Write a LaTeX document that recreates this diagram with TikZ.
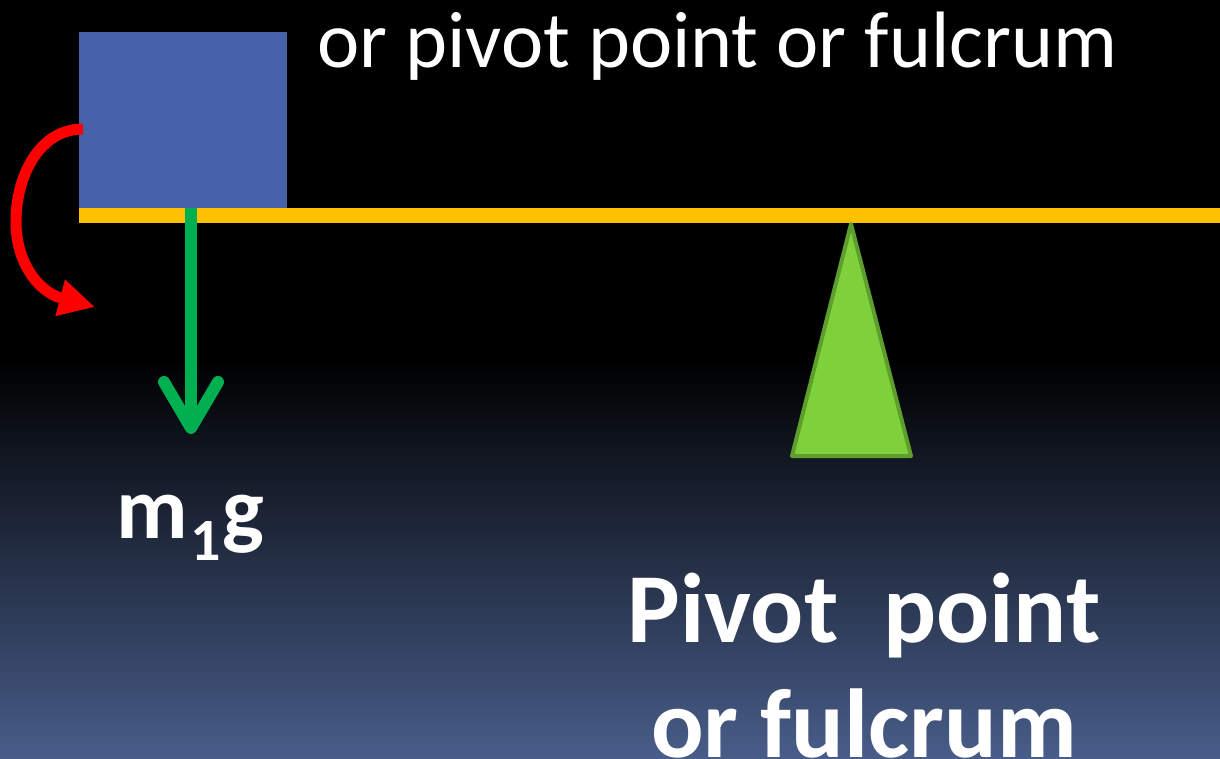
\documentclass[tikz,border=0pt]{standalone}
\usepackage{fontspec}
\setmainfont{Carlito}
\usetikzlibrary{arrows.meta}

\definecolor{bgbottom}{HTML}{485D89}
\definecolor{blockblue}{HTML}{4662A9}
\definecolor{beamyellow}{HTML}{FFC000}
\definecolor{forcegreen}{HTML}{00B050}
\definecolor{pivotfill}{HTML}{7FD13B}
\definecolor{pivotedge}{HTML}{5E9E2D}
\definecolor{turnred}{HTML}{FF0000}

\tikzset{
  massblock/.style={fill=blockblue, draw=none, inner sep=0pt,
    minimum width=208pt, minimum height=176pt},
  beambar/.style={fill=beamyellow, draw=none, inner sep=0pt,
    minimum width=1141pt, minimum height=15pt},
  weightarrow/.style={draw=forcegreen, line width=12pt,
    -{Straight Barb[length=46pt,width=54pt,round]}},
  turnarrow/.style={draw=turnred, line width=11pt,
    -{Triangle[length=36pt,width=35pt]}},
  fulcrum/.style={fill=pivotfill, draw=pivotedge, line width=4pt, line join=round},
  label/.style={text=white, inner sep=0pt, anchor=base},
}

\begin{document}
\begin{tikzpicture}[x=1pt,y=-1pt]
  % background: black above, fading to slate blue at the bottom
  \useasboundingbox (0,0) rectangle (1220,759);
  \fill[black] (0,0) rectangle (1220,759);
  \shade[top color=black, bottom color=bgbottom] (0,360) rectangle (1220,759);

  % lever and mass
  \node[massblock] (block) at (183,120) {};
  \node[beambar] (beam) at (649.5,215.5) {};

  % fulcrum wedge
  \coordinate (apex) at (851,224);
  \coordinate (baseR) at (911,456);
  \coordinate (baseL) at (792,456);
  \draw[fulcrum] (apex) -- (baseR) -- (baseL) -- cycle;

  % weight of the mass
  \coordinate (gtip) at (191,434);
  \draw[weightarrow] (block.south -| gtip) -- (gtip);

  % sense of rotation
  \coordinate (rstart) at (83,129);
  \coordinate (rtip) at (95,307);
  \draw[turnarrow] (rstart) .. controls (40,129) and (16,175) .. (16,222)
                            .. controls (16,262) and (38,292) .. (rtip);

  % labels
  \node[label, anchor=base west] (toptext) at (317,68)
    {\fontsize{80}{90}\selectfont or pivot point or fulcrum};
  \node[label, anchor=base west] (weightlab) at (116,538)
    {\fontsize{88}{100}\selectfont\bfseries m\hspace{3pt}\raisebox{-22pt}{\fontsize{60}{60}\selectfont 1}\hspace{1pt}g};
  \node[label] (pivlabA) at (864,642)
    {\fontsize{99}{115}\selectfont\bfseries Pivot~~point};
  \node[label] (pivlabB) at (864,757)
    {\fontsize{98}{115}\selectfont\bfseries or fulcrum};
\end{tikzpicture}
\end{document}
